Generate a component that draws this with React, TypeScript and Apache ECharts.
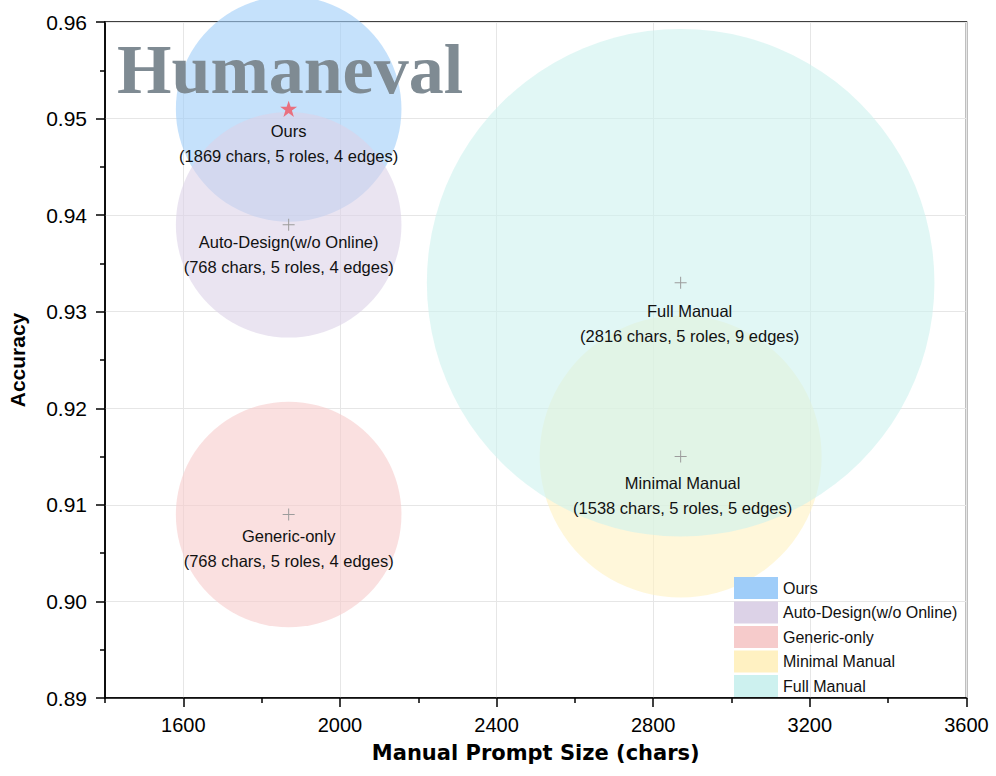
import React, { useEffect, useRef } from "react";
import * as echarts from "echarts";

// ---- data ----
const methods = ["Ours", "Auto-Design(w/o Online)", "Generic-only", "Minimal Manual", "Full Manual"];
const plotX = [1869, 1869, 1869, 2870, 2870];
const accuracy = [0.951, 0.939, 0.909, 0.915, 0.933];
const promptChars = [1869, 768, 768, 1538, 2816];
const roles = [5, 5, 5, 5, 5];
const edges = [4, 4, 4, 5, 9];

const xMajorTicks = [1600, 2000, 2400, 2800, 3200, 3600];
const xMinorTicks = [1400, 1800, 2200, 2600, 3000, 3400];

// ---- styles ----
const colors = ["#9fcdf9", "#dcd2e7", "#f6cbcb", "#fff1c2", "#cdf1ef"];
const labelOffsets = [
  [0, 35],
  [0, 30],
  [0, 34],
  [2, 38.5],
  [9, 40.5],
];
const PX_PER_EDGE = 56.4;
const STAR = "path://M50,0 L61.8,35.4 L100,35.4 L69.1,57.3 L80.9,95.1 L50,71.9 L19.1,95.1 L30.9,57.3 L0,35.4 L38.2,35.4 Z";
const CROSS = "path://M0,5.5H12V6.5H0Z M5.5,0H6.5V12H5.5Z";
const SANS = "Liberation Sans";

export default function App() {
  const ref = useRef<HTMLDivElement>(null);
  useEffect(() => {
    if (!ref.current) return;
    const chart = echarts.init(ref.current, undefined, { renderer: "svg" });

    const bubbleSeries = methods.map((m, i) => ({
      name: m,
      type: "scatter",
      clip: false,
      symbol: "circle",
      symbolSize: edges[i] * PX_PER_EDGE,
      itemStyle: { color: colors[i], opacity: 0.6 },
      emphasis: { disabled: true },
      data: [[plotX[i], accuracy[i]]],
      z: 2,
    }));

    const markerSeries = {
      name: "markers",
      type: "scatter",
      clip: false,
      z: 5,
      symbolKeepAspect: true,
      emphasis: { disabled: true },
      data: methods.map((m, i) => ({
        value: [plotX[i], accuracy[i]],
        symbol: i === 0 ? STAR : CROSS,
        symbolSize: i === 0 ? 17 : 12,
        itemStyle: { color: i === 0 ? "#e9707f" : "#9c9c9c", opacity: 1 },
        label: {
          show: true,
          position: "inside",
          offset: labelOffsets[i],
          formatter: `${m}\n(${promptChars[i]} chars, ${roles[i]} roles, ${edges[i]} edges)`,
          color: "#111",
          fontFamily: SANS,
          fontSize: 16.5,
          lineHeight: 25,
          align: "center",
        },
      })),
    };

    const axisLineStyle = { color: "#000", width: 1.5 };

    chart.setOption({
      animation: false,
      backgroundColor: "#fff",
      grid: {
        left: 105,
        right: 29.5,
        top: 22,
        bottom: 78,
        containLabel: false,
        outerBoundsMode: "none",
        show: true,
        borderColor: "#000",
        borderWidth: 1.5,
        backgroundColor: "transparent",
      },
      legend: {
        orient: "vertical",
        left: 734,
        top: 577,
        padding: 0,
        itemWidth: 44,
        itemHeight: 22,
        itemGap: 2.5,
        icon: "rect",
        selectedMode: false,
        textStyle: { fontFamily: SANS, fontSize: 16, color: "#111" },
        data: methods.map((m, i) => ({ name: m, itemStyle: { color: colors[i], opacity: 1 } })),
      },
      xAxis: [
        {
          type: "value",
          min: 1400,
          max: 3600,
          position: "bottom",
          name: "Manual Prompt Size (chars)",
          nameLocation: "middle",
          nameGap: 44,
          nameTextStyle: { fontFamily: "DejaVu Sans", fontWeight: "bold", fontSize: 21, color: "#000" },
          axisLine: { show: true, onZero: false, lineStyle: axisLineStyle },
          axisTick: { show: true, customValues: xMajorTicks, length: 9, lineStyle: axisLineStyle },
          axisLabel: {
            customValues: xMajorTicks,
            margin: 17,
            fontFamily: SANS,
            fontSize: 20,
            color: "#000",
            formatter: (v: number) => String(v),
          },
          splitLine: { show: true, lineStyle: { color: "#e6e6e6", width: 1 } },
        },
        {
          type: "value",
          min: 1400,
          max: 3600,
          position: "bottom",
          axisLine: { show: false, onZero: false },
          axisTick: { show: true, customValues: xMinorTicks, length: 5, lineStyle: axisLineStyle },
          axisLabel: { show: false },
          splitLine: { show: false },
        },
      ],
      yAxis: {
        type: "value",
        min: 0.89,
        max: 0.96,
        interval: 0.01,
        name: "Accuracy",
        nameLocation: "middle",
        nameGap: 77,
        nameTextStyle: { fontFamily: SANS, fontWeight: "bold", fontSize: 21, color: "#000" },
        axisLine: { show: true, onZero: false, lineStyle: axisLineStyle },
        axisTick: { show: true, length: 9, lineStyle: axisLineStyle },
        minorTick: { show: true, splitNumber: 2, length: 5, lineStyle: axisLineStyle },
        axisLabel: {
          margin: 18,
          fontFamily: SANS,
          fontSize: 21,
          color: "#000",
          formatter: (v: number) => v.toFixed(2),
        },
        splitLine: { show: true, lineStyle: { color: "#e6e6e6", width: 1 } },
      },
      graphic: [
        {
          type: "text",
          x: 117,
          y: 69.5,
          z: 100,
          silent: true,
          style: {
            text: "Humaneval",
            font: 'bold 70px "Liberation Serif"',
            fill: "#7f8b93",
            align: "left",
            verticalAlign: "middle",
          },
        },
      ],
      series: [...bubbleSeries, markerSeries],
    });

    return () => chart.dispose();
  }, []);

  return (
    <div
      ref={ref}
      style={{ position: "fixed", left: 0, top: 0, width: 996, height: 776 }}
    />
  );
}
